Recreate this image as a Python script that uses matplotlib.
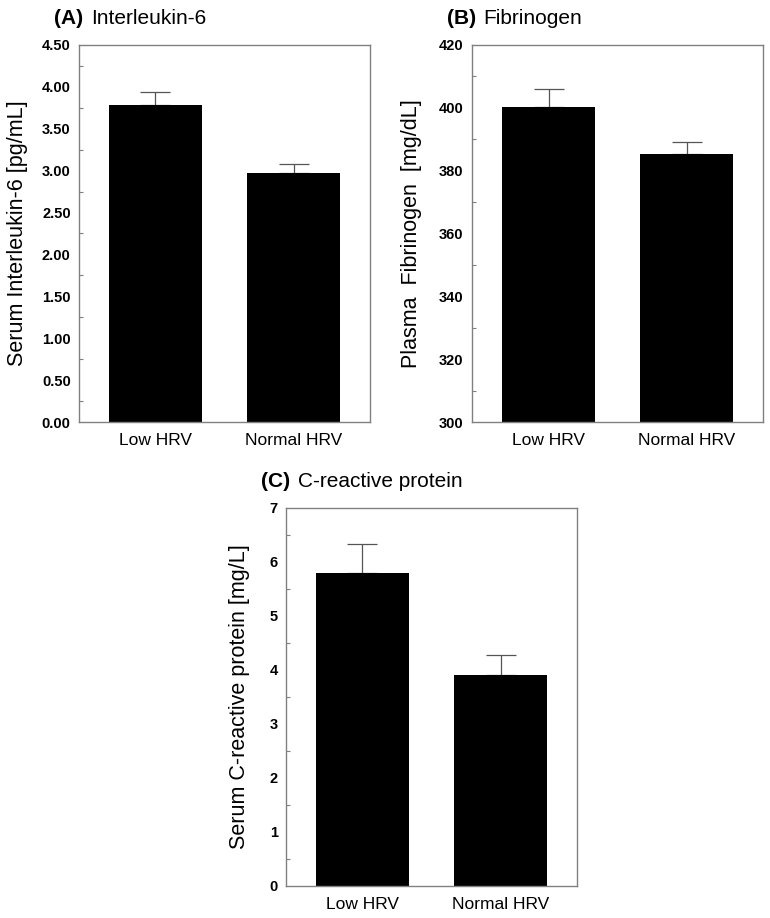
import numpy as np
import matplotlib.pyplot as plt
from matplotlib.ticker import MultipleLocator, FormatStrFormatter

plt.rcParams['font.family'] = ['Liberation Sans', 'DejaVu Sans']

# Data
groups = ['Low HRV', 'Normal HRV']

il6_mean = [3.78, 2.97]
il6_err = [0.16, 0.11]

fib_mean = [400.2, 385.3]
fib_err = [5.7, 3.8]

crp_mean = [5.80, 3.91]
crp_err = [0.53, 0.37]

edge = '#808080'

fig = plt.figure(figsize=(7.7, 9.18), dpi=100)


def panel(rect, means, errs, ylim, major, fmt, ylabel, letter, name, lpad):
    ax = fig.add_axes(rect)
    x = np.arange(len(groups))
    ax.bar(x, means, width=0.674, color='black', zorder=2)
    ax.errorbar(x, means, yerr=[np.zeros(len(errs)), errs], fmt='none',
                ecolor='#555555', elinewidth=0.9, capsize=11, capthick=0.9,
                zorder=1)
    ax.set_xlim(-0.554, 1.554)
    ax.set_ylim(*ylim)
    ax.set_xticks(x)
    ax.set_xticklabels(groups, fontsize=12.5)
    ax.tick_params(axis='x', length=0, pad=8)
    ax.yaxis.set_major_locator(MultipleLocator(major))
    ax.yaxis.set_minor_locator(MultipleLocator(major / 2))
    ax.yaxis.set_major_formatter(FormatStrFormatter(fmt))
    ax.tick_params(axis='y', which='major', length=0, pad=6, labelsize=10.5)
    ax.tick_params(axis='y', which='minor', direction='in', length=3,
                   color=edge, width=0.8)
    for lab in ax.get_yticklabels():
        lab.set_fontweight('bold')
    for sp in ax.spines.values():
        sp.set_color(edge)
        sp.set_linewidth(1.0)
    ax.set_ylabel(ylabel, fontsize=15.5, labelpad=lpad)
    ax.text(-0.085, 1.056, letter, transform=ax.transAxes, fontsize=15,
            fontweight='bold', ha='left', va='baseline')
    ax.text(0.04, 1.056, name, transform=ax.transAxes, fontsize=15,
            ha='left', va='baseline')
    return ax


panel([0.1026, 0.5403, 0.378, 0.4107], il6_mean, il6_err, (0, 4.5), 0.5,
      '%.2f', 'Serum Interleukin-6 [pg/mL]', '(A)', 'Interleukin-6', 10)
panel([0.613, 0.5403, 0.378, 0.4107], fib_mean, fib_err, (300, 420), 20,
      '%d', 'Plasma  Fibrinogen  [mg/dL]', '(B)', 'Fibrinogen', 12)
panel([0.3714, 0.0349, 0.378, 0.4118], crp_mean, crp_err, (0, 7), 1,
      '%d', 'Serum C-reactive protein [mg/L]', '(C)', 'C-reactive protein', 14)

fig.savefig('out.png', dpi=100)
